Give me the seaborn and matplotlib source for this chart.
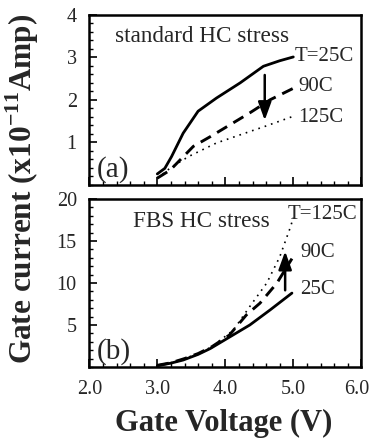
import matplotlib
matplotlib.use("Agg")
import matplotlib.pyplot as plt
import matplotlib.transforms as mtransforms
import seaborn as sns
import pandas as pd
from matplotlib.ticker import MultipleLocator

# ---- data ----
# panel (a): standard HC stress
va_25 = [3.0, 3.11, 3.21, 3.38, 3.60, 3.87, 4.22, 4.56, 4.80, 5.0]
ia_25 = [0.25, 0.38, 0.66, 1.21, 1.73, 2.04, 2.40, 2.79, 2.92, 3.01]
va_90 = [3.0, 3.19, 3.53, 3.78, 4.07, 4.36, 4.66, 5.0]
ia_90 = [0.15, 0.34, 0.90, 1.13, 1.41, 1.69, 2.00, 2.27]
va_125 = [3.0, 3.2, 3.46, 3.87, 4.36, 4.58, 5.0]
ia_125 = [0.15, 0.40, 0.66, 0.98, 1.25, 1.37, 1.61]

# panel (b): FBS HC stress
vb_25 = [3.0, 3.19, 3.38, 3.6, 3.78, 4.07, 4.36, 4.66, 4.98]
ib_25 = [0.15, 0.44, 0.83, 1.5, 2.2, 3.6, 5.0, 6.8, 8.8]
vb_90 = [3.0, 3.2, 3.4, 3.6, 3.8, 4.06, 4.31, 4.51, 4.76, 4.98]
ib_90 = [0.2, 0.5, 1.0, 1.6, 2.4, 3.8, 6.2, 7.6, 10.0, 12.9]
vb_125 = [3.0, 3.2, 3.4, 3.6, 3.8, 4.12, 4.36, 4.61, 4.80, 4.96, 5.0]
ib_125 = [0.2, 0.5, 1.0, 1.6, 2.4, 4.4, 7.2, 10.0, 13.1, 16.7, 17.8]

xticks = [2.0, 3.0, 4.0, 5.0, 6.0]
xticklabels = ["2.0", "3.0", "4.0", "5.0", "6.0"]
yticks_a = [1, 2, 3, 4]
yticks_b = [5, 10, 15, 20]

sns.set_style("ticks")
plt.rcParams["font.family"] = ["Liberation Serif", "DejaVu Serif"]
plt.rcParams["mathtext.fontset"] = "custom"
plt.rcParams["mathtext.rm"] = "Liberation Serif"
plt.rcParams["mathtext.bf"] = "Liberation Serif:bold"

fig = plt.figure(figsize=(3.72, 4.44), dpi=100)
axa = fig.add_axes([89.3/372, 1-184.5/444, (361.3-89.3)/372, (184.5-15)/444])
axb = fig.add_axes([89.3/372, 1-367/444, (361.3-89.3)/372, (367-199)/444])

solid = dict(color="black", lw=2.0, linestyle="-")
dashed = dict(color="black", lw=2.1, linestyle=(0, (4, 2.5)))
dotted = dict(color="black", lw=1.2, linestyle=(0, (1, 3)))

def draw(ax, v, i, kw):
    df = pd.DataFrame({"V": v, "I": i})
    sns.lineplot(data=df, x="V", y="I", ax=ax, sort=False, estimator=None, **kw)

draw(axa, va_25, ia_25, solid)
draw(axa, va_90, ia_90, dashed)
draw(axa, va_125, ia_125, dotted)
draw(axb, vb_25, ib_25, solid)
draw(axb, vb_90, ib_90, dashed)
draw(axb, vb_125, ib_125, dotted)

for ax in (axa, axb):
    ax.set_xlim(2.0, 6.0)
    ax.set_xticks(xticks)
    ax.xaxis.set_minor_locator(MultipleLocator(0.2))
    ax.set_xlabel("")
    ax.set_ylabel("")
    for s in ax.spines.values():
        s.set_visible(True)
        s.set_linewidth(1.8)
        s.set_color("black")
    ax.tick_params(which="major", direction="in", length=6, width=1.2, labelsize=14.5,
                   color="black", pad=9)
    ax.tick_params(which="minor", direction="in", length=3, width=1.0, color="black")

axa.set_ylim(0, 4)
axa.set_yticks(yticks_a)
axa.yaxis.set_minor_locator(MultipleLocator(0.2))
axa.set_xticklabels([])
axb.set_ylim(0, 20)
axb.set_yticks(yticks_b)
axb.yaxis.set_minor_locator(MultipleLocator(1))
axb.set_xticklabels(xticklabels)
# nudge the last tick label a few pixels left so it stays on the canvas
shift = mtransforms.ScaledTranslation(-5/100, 0, fig.dpi_scale_trans)
last = axb.get_xticklabels()[-1]
last.set_transform(last.get_transform() + shift)

# annotations panel (a)
tk = dict(fontsize=15, va="center", ha="left")
axa.text(2.38, 3.5, "standard HC stress", fontsize=16.7, va="center", ha="left")
axa.text(5.02, 3.02, "T=25C", **tk)
axa.text(5.07, 2.31, "90C", **tk)
axa.text(5.07, 1.58, "125C", **tk)
axa.text(2.11, 0.36, "(a)", fontsize=21, va="center", ha="left")
axa.annotate("", xy=(4.58, 1.45), xytext=(4.58, 2.65),
             arrowprops=dict(arrowstyle="-|>,head_length=1.1,head_width=0.4", color="black", lw=1.8))

# annotations panel (b)
axb.text(2.64, 17.3, "FBS HC stress", fontsize=16.7, va="center", ha="left")
axb.text(4.92, 18.1, "T=125C", **tk)
axb.text(5.1, 13.6, "90C", **tk)
axb.text(5.1, 9.2, "25C", **tk)
axb.text(2.11, 1.8, "(b)", fontsize=21, va="center", ha="left")
axb.annotate("", xy=(4.88, 14.1), xytext=(4.88, 8.8),
             arrowprops=dict(arrowstyle="-|>,head_length=1.1,head_width=0.4", color="black", lw=1.8))

fig.text(0.059, 0.574, r"Gate current (x10$^{\mathbf{-11}}$Amp)", rotation=90,
         ha="center", va="center", fontsize=22.5, fontweight="bold")
fig.text(0.602, 0.047, "Gate Voltage (V)", ha="center", va="center",
         fontsize=22, fontweight="bold")

fig.savefig("out.png", dpi=100)
